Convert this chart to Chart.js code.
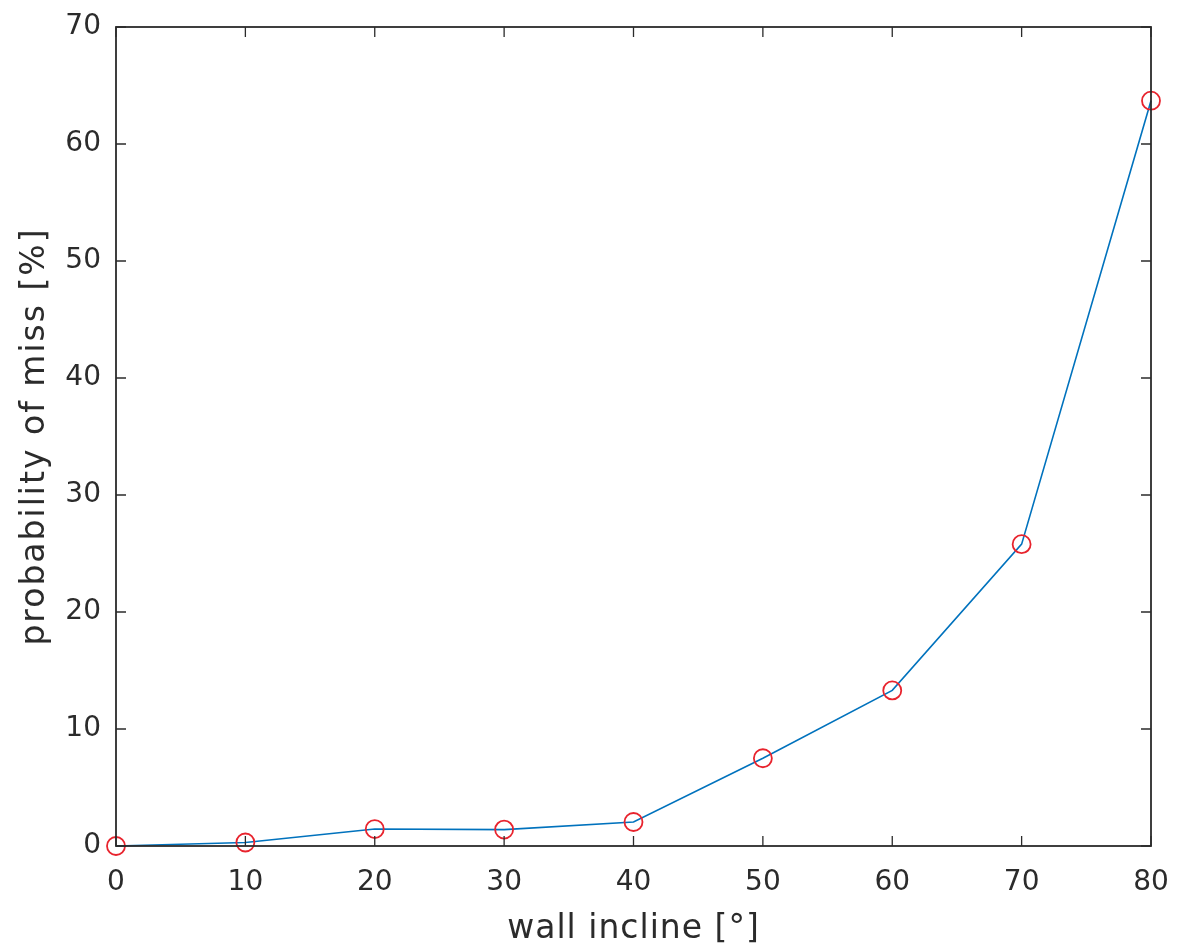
<!DOCTYPE html>
<html>
<head>
<meta charset="utf-8">
<title>probability of miss</title>
<script src="https://cdn.jsdelivr.net/npm/chart.js@4/dist/chart.umd.min.js"></script>
<style>
  html, body { margin: 0; padding: 0; background: #fff; }
  #wrap { width: 1177px; height: 949px; }
</style>
</head>
<body>
<div id="wrap"><canvas id="missChart"></canvas></div>
<script>
// wall incline in degrees
var inclines = [0, 10, 20, 30, 40, 50, 60, 70, 80];
// probability of miss in percent
var missProb = [0, 0.3, 1.45, 1.4, 2.05, 7.5, 13.3, 25.8, 63.7];

var xTitle = 'wall incline [°]';
var yTitle = 'probability of miss [%]';

var axisColor = '#2b2b2b';

// matlab-ish box with ticks pointing inward on all four sides
var boxPlugin = {
    id: 'boxTicks',
    afterDraw: function(chart) {
        var ctx = chart.ctx;
        var a = chart.chartArea;
        var xs = chart.scales.x, ys = chart.scales.y;
        var len = 10;
        ctx.save();
        ctx.strokeStyle = axisColor;
        ctx.lineWidth = 1.8;
        ctx.strokeRect(a.left, a.top, a.right - a.left, a.bottom - a.top);
        ctx.lineWidth = 1.3;
        ctx.beginPath();
        xs.ticks.forEach(function(t) {
            var px = xs.getPixelForValue(t.value);
            ctx.moveTo(px, a.bottom); ctx.lineTo(px, a.bottom - len);
            ctx.moveTo(px, a.top); ctx.lineTo(px, a.top + len);
        });
        ys.ticks.forEach(function(t) {
            var py = ys.getPixelForValue(t.value);
            ctx.moveTo(a.left, py); ctx.lineTo(a.left + len, py);
            ctx.moveTo(a.right, py); ctx.lineTo(a.right - len, py);
        });
        ctx.stroke();
        ctx.restore();
    }
};

// keep the tick labels from pushing the plot box around
function noOverflow(scale) {
    scale.paddingTop = 0;
    scale.paddingBottom = 0;
    scale.paddingLeft = 0;
    scale.paddingRight = 0;
}

// axis titles in the original are spaced out a bit
function spaceTitle(scale, sp) {
    if (scale._spacedTitle) return;
    var orig = scale.drawTitle;
    scale.drawTitle = function() {
        var c = this.ctx;
        var prev = c.letterSpacing;
        c.letterSpacing = sp;
        orig.apply(this, arguments);
        c.letterSpacing = prev;
    };
    scale._spacedTitle = true;
}

var points = inclines.map(function(v, i) {
    return { x: v, y: missProb[i] };
});

var ctx = document.getElementById('missChart').getContext('2d');
var missChart = new Chart(ctx, {
    type: 'line',
    data: {
        datasets: [{
            data: points,
            borderColor: '#0072BD',
            borderWidth: 1.6,
            pointStyle: 'circle',
            pointRadius: 9,
            pointBorderWidth: 1.8,
            pointBorderColor: '#e8232d',
            pointBackgroundColor: 'rgba(0,0,0,0)',
            fill: false,
            tension: 0,
            clip: false
        }]
    },
    options: {
        responsive: true,
        maintainAspectRatio: false,
        animation: false,
        layout: { padding: { top: 27, right: 26, left: 0, bottom: 0 } },
        plugins: {
            legend: { display: false },
            tooltip: { enabled: false }
        },
        scales: {
            x: {
                type: 'linear',
                min: 0,
                max: 80,
                ticks: {
                    stepSize: 10,
                    padding: 20,
                    color: axisColor,
                    font: { family: 'DejaVu Sans', size: 28 }
                },
                grid: { display: false, drawTicks: false },
                border: { display: false },
                title: {
                    display: true,
                    text: xTitle,
                    color: axisColor,
                    font: { family: 'DejaVu Sans', size: 33 },
                    padding: { top: 0, bottom: 0 }
                },
                afterFit: function(scale) {
                    scale.height = 103;
                    noOverflow(scale);
                    spaceTitle(scale, '1px');
                }
            },
            y: {
                min: 0,
                max: 70,
                ticks: {
                    stepSize: 10,
                    padding: 15,
                    color: axisColor,
                    font: { family: 'DejaVu Sans', size: 28 }
                },
                grid: { display: false, drawTicks: false },
                border: { display: false },
                title: {
                    display: true,
                    text: yTitle,
                    color: axisColor,
                    font: { family: 'DejaVu Sans', size: 33 },
                    padding: { top: 16, bottom: 0 }
                },
                afterFit: function(scale) {
                    scale.width = 116;
                    noOverflow(scale);
                    spaceTitle(scale, '2px');
                }
            }
        }
    },
    plugins: [boxPlugin]
});
</script>
</body>
</html>
